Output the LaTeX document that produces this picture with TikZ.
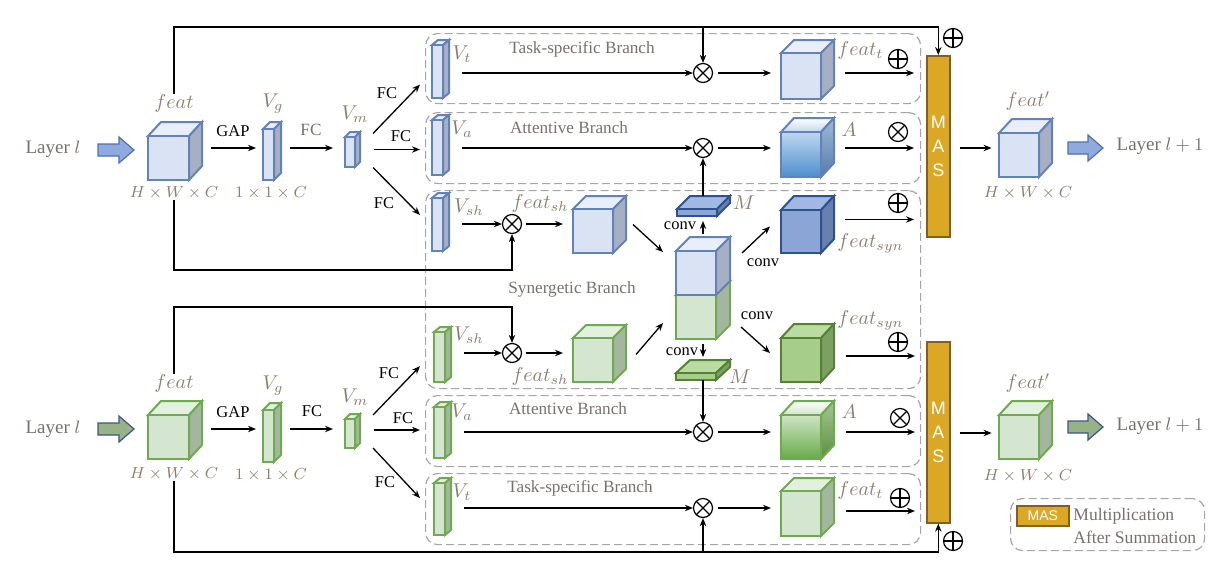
\documentclass[tikz,border=0pt]{standalone}
\usepackage{fontspec}
\setmainfont{Liberation Serif}
\newfontfamily\sansf{Liberation Sans}
\usetikzlibrary{arrows.meta,fit,calc}
\definecolor{lbf}{RGB}{218,227,243}
\definecolor{lbt}{RGB}{233,239,250}
\definecolor{lbs}{RGB}{166,176,194}
\definecolor{lbd}{RGB}{98,130,188}
\definecolor{lgf}{RGB}{212,230,208}
\definecolor{lgt}{RGB}{226,240,222}
\definecolor{lgs}{RGB}{165,182,160}
\definecolor{lgd}{RGB}{112,170,80}
\definecolor{dbf}{RGB}{139,165,214}
\definecolor{dbt}{RGB}{160,184,226}
\definecolor{dbs}{RGB}{104,128,174}
\definecolor{dbd}{RGB}{47,82,143}
\definecolor{dgf}{RGB}{166,206,138}
\definecolor{dgt}{RGB}{186,220,162}
\definecolor{dgs}{RGB}{124,160,98}
\definecolor{dgd}{RGB}{84,130,53}
\definecolor{masf}{RGB}{218,168,36}
\definecolor{masd}{RGB}{130,95,30}
\definecolor{dashg}{RGB}{165,165,165}
\definecolor{tgray}{RGB}{118,113,110}
\definecolor{mgray}{RGB}{140,126,110}
\definecolor{bafill}{RGB}{143,170,220}
\definecolor{badraw}{RGB}{80,110,180}
\definecolor{gafill}{RGB}{152,178,136}
\definecolor{gadraw}{RGB}{60,85,140}
\newcommand{\drawcube}[8]{%
  \filldraw[#8top] (#2,#3) -- ++(#6,-#7) -- ++(#4,0) -- ++(-#6,#7) -- cycle;
  \filldraw[#8side] (#2+#4,#3) -- ++(#6,-#7) -- ++(0,#5) -- ++(-#6,#7) -- cycle;
  \filldraw[#8front] (#2,#3) rectangle ++(#4,#5);
  \node[fit={(#2,#3-#7) (#2+#4+#6,#3+#5)}, inner sep=0pt, outer sep=0pt] (#1) {};
}
\tikzset{
  cb/.style={line width=1pt, line join=miter},
  lbtop/.style={cb, draw=lbd, fill=lbt}, lbside/.style={cb, draw=lbd, fill=lbs}, lbfront/.style={cb, draw=lbd, fill=lbf},
  lgtop/.style={cb, draw=lgd, fill=lgt}, lgside/.style={cb, draw=lgd, fill=lgs}, lgfront/.style={cb, draw=lgd, fill=lgf},
  dbtop/.style={cb, draw=dbd, fill=dbt}, dbside/.style={cb, draw=dbd, fill=dbs}, dbfront/.style={cb, draw=dbd, fill=dbf},
  dgtop/.style={cb, draw=dgd, fill=dgt}, dgside/.style={cb, draw=dgd, fill=dgs}, dgfront/.style={cb, draw=dgd, fill=dgf},
  gatop/.style={cb, draw=lbd, top color=white, bottom color={rgb,255:red,195;green,215;blue,238}},
  gaside/.style={cb, draw=lbd, top color={rgb,255:red,160;green,185;blue,212}, bottom color={rgb,255:red,85;green,125;blue,172}},
  gafront/.style={cb, draw=lbd, top color={rgb,255:red,190;green,214;blue,240}, bottom color={rgb,255:red,78;green,143;blue,204}},
  ggtop/.style={cb, draw=lgd, top color=white, bottom color={rgb,255:red,208;green,230;blue,200}},
  ggside/.style={cb, draw=lgd, top color={rgb,255:red,165;green,198;blue,150}, bottom color={rgb,255:red,92;green,142;blue,62}},
  ggfront/.style={cb, draw=lgd, top color={rgb,255:red,205;green,228;blue,196}, bottom color={rgb,255:red,104;green,170;blue,74}},
  arr/.style={line width=0.65pt, -{Stealth[length=4pt,width=3.2pt]}},
  ln/.style={line width=0.65pt},
  branchbox/.style={draw=dashg, dash pattern=on 4pt off 2pt, line width=0.6pt, rounded corners=6pt, inner sep=0pt, anchor=north west},
  otimes/.style={circle, draw, line width=0.6pt, inner sep=0pt, minimum size=9.5pt,
    path picture={\draw[line width=0.6pt] (path picture bounding box.north west) -- (path picture bounding box.south east)
      (path picture bounding box.north east) -- (path picture bounding box.south west);}},
  oplus/.style={circle, draw, line width=0.6pt, inner sep=0pt, minimum size=9.5pt,
    path picture={\draw[line width=0.6pt] (path picture bounding box.north) -- (path picture bounding box.south)
      (path picture bounding box.east) -- (path picture bounding box.west);}},
  lay/.style={text=tgray, font=\fontsize{9.5}{11}\selectfont, inner sep=0pt},
  txt/.style={text=tgray, font=\fontsize{8.6}{10}\selectfont, inner sep=0pt},
  mth/.style={text=mgray, font=\fontsize{10}{12}\selectfont, inner sep=0pt},
  dim/.style={text=mgray, font=\fontsize{8}{10}\selectfont, inner sep=0pt},
  blk/.style={text=black, font=\fontsize{8.25}{10}\selectfont, inner sep=0pt},
  mas/.style={draw=masd, fill=masf, line width=0.8pt, inner sep=0pt, anchor=north west, text=white, align=center,
    font=\sansf\fontsize{9}{12}\selectfont},
  barrowA/.style={draw=badraw, fill=bafill, line width=0.6pt},
  barrowB/.style={draw=gadraw, fill=gafill, line width=0.6pt},
}
\begin{document}
\begin{tikzpicture}[x=0.5pt,y=-0.5pt]
\useasboundingbox (0,0) rectangle (1230,562);
% ---------- branch boxes ----------
\node[branchbox, minimum width=247.5pt, minimum height=35pt] (tA) at (425,33) {};
\node[branchbox, minimum width=247.5pt, minimum height=35.5pt] (aA) at (425,112) {};
\node[branchbox, minimum width=247.5pt, minimum height=99pt] (syn) at (425,190) {};
\node[branchbox, minimum width=247.5pt, minimum height=35.5pt] (aB) at (425,395) {};
\node[branchbox, minimum width=247.5pt, minimum height=35.5pt] (tB) at (425,473) {};
% ---------- MAS ----------
\node[mas, minimum width=11.5pt, minimum height=90.5pt] (masA) at (926,55) {M\\A\\S};
\node[mas, minimum width=11.5pt, minimum height=90.5pt] (masB) at (926,341) {M\\A\\S};
% ---------- upper half (blue) ----------
\node[lay] (layA) at (53,149) {Layer $l$};
\filldraw[barrowA] (98,144) -- (119,144) -- (119,137) -- (134,150) -- (119,163) -- (119,156) -- (98,156) -- cycle;
\node[fit={(98,137) (134,163)}, inner sep=0pt] (baA) {};
\drawcube{cA}{148}{136}{41}{44}{13}{14}{lb}
\node[mth] (flA) at (174,103) {$feat$};
\node[dim] (hwA) at (174,193) {$H\times W\times C$};
\node[blk] (gapA) at (233,131) {GAP};
\drawcube{vgA}{263}{129}{11}{51}{7}{7}{lb}
\node[mth] (vglA) at (273,104) {$V_g$};
\node[dim] (ocA) at (271,193) {$1\times 1\times C$};
\node[txt] (fcA) at (311,130) {FC};
\drawcube{vmA}{345}{137}{10}{30}{5}{5}{lb}
\node[mth] (vmlA) at (355,114) {$V_m$};
\coordinate (yA) at (0,148);
\draw[arr] ($(cA.east |- yA)+(9,0)$) -- ($(vgA.west |- yA)+(-7,0)$);
\draw[arr] ($(vgA.east |- yA)+(9,0)$) -- ($(vmA.west |- yA)+(-12,0)$);
\draw[arr] ($(vmA.east)+(13,-16)$) -- ($(tA.west)+(-5,16)$);
\draw[arr] ($(vmA.east)+(14,0)$) -- ($(aA.west |- vmA.east)+(-5,0)$);
\draw[arr] ($(vmA.east)+(13,18)$) -- ($(syn.north west)+(-5,25)$);
\node[blk] (fc1A) at (387,93) {FC};
\node[blk] (fc2A) at (401,136) {FC};
\node[blk] (fc3A) at (384,203) {FC};
% task-specific A
\drawcube{vtA}{432}{45}{11}{53}{6}{5}{lb}
\node[mth] (vtlA) at (462,54) {$V_t$};
\node[txt] (tsA) at (582,49) {Task-specific Branch};
\node[otimes] (otA) at (703,73) {};
\drawcube{ftA}{781}{53}{40}{46}{13}{13}{lb}
\node[mth, anchor=west] (ftlA) at (837,50) {$feat_t$};
\node[oplus] (opA1) at (898,59) {};
\draw[arr] ($(vtA.east |- otA.west)+(13,0)$) -- (otA.west);
\draw[arr] ($(otA.east)+(5,0)$) -- ($(otA.east -| ftA.west)+(-10,0)$);
\draw[arr] ($(otA.east -| ftA.east)+(11,0)$) -- ($(otA.east -| masA.west)+(-12,0)$);
% attentive A
\drawcube{vaA}{432}{120}{11}{55}{6}{5}{lb}
\node[mth] (valA) at (462,129) {$V_a$};
\node[txt] (abA) at (569,128) {Attentive Branch};
\node[otimes] (oaA) at (703,148) {};
\drawcube{gaA}{781}{132}{40}{45}{13}{14}{ga}
\node[mth] (alA) at (849,130) {$A$};
\node[otimes] (oaA2) at (898,132) {};
\draw[arr] ($(vaA.east |- oaA.west)+(13,0)$) -- (oaA.west);
\draw[arr] ($(oaA.east)+(5,0)$) -- ($(oaA.east -| gaA.west)+(-10,0)$);
\draw[arr] ($(oaA.east -| gaA.east)+(11,0)$) -- ($(oaA.east -| masA.west)+(-12,0)$);
% synergetic A
\drawcube{vsA}{432}{198}{11}{53}{6}{5}{lb}
\node[mth] (vslA) at (469,207) {$V_{sh}$};
\node[otimes] (osA) at (512,224) {};
\drawcube{shA}{573}{209}{40}{44}{13}{13}{lb}
\node[mth] (shlA) at (540,203) {$feat_{sh}$};
\draw[arr] ($(vsA.east |- osA.west)+(13,0)$) -- (osA.west);
\draw[arr] ($(osA.east)+(4,0)$) -- ($(osA.east -| shA.west)+(-10,0)$);
% stacked
\drawcube{stB}{676}{295}{40}{44}{14}{14}{lg}
\drawcube{stA}{676}{251}{40}{44}{14}{14}{lb}
\drawcube{mA}{677}{209}{40}{7}{13}{13}{db}
\node[mth] (mlA) at (744,203) {$M$};
\node[blk] (cv1) at (680,226) {conv};
\draw[arr] ($(shA.east)+(7,0)$) -- ($(stA.west)+(-13,-14)$);
\draw[arr] ($(stA.north)+(0,-3)$) -- ($(stA.north |- mA.south)+(0,5)$);
\draw[arr] (oaA.south |- mA.north) -- (oaA.south);
\drawcube{syA}{781}{210}{40}{43}{13}{14}{db}
\node[mth, anchor=west] (sylA) at (837,243) {$feat_{syn}$};
\node[oplus] (opA2) at (898,203) {};
\node[blk] (cv2) at (763,263) {conv};
\draw[arr] ($(stA.east)+(12,-13)$) -- ($(syA.west)+(-11,2)$);
\draw[arr] ($(syA.east)+(11,-5)$) -- ($(syA.east -| masA.west)+(-12,-5)$);
\node[txt] (sbl) at (572,289) {Synergetic Branch};
% feedback lines A
\coordinate (barA) at (0,27);
\coordinate (lowA) at (0,270);
\draw[arr] (flA.north) -- (flA.north |- barA) -- (masA.north |- barA) -- (masA.north);
\draw[arr] (otA.north |- barA) -- (otA.north);
\node[oplus] (opA0) at (953,38) {};
\draw[arr] (hwA.south) -- (hwA.south |- lowA) -- (osA.south |- lowA) -- (osA.south);
% output A
\drawcube{fpA}{999}{133}{40}{44}{13}{14}{lb}
\node[mth] (fplA) at (1028,101) {$feat'$};
\node[dim] (hwA2) at (1028,193) {$H\times W\times C$};
\draw[arr] ($(masA.east |- oaA.east)+(9,0)$) -- ($(masA.east |- oaA.east)+(41,0)$);
\filldraw[barrowA] (1068,142) -- (1088,142) -- (1088,135) -- (1103,148) -- (1088,161) -- (1088,154) -- (1068,154) -- cycle;
\node[fit={(1068,135) (1103,161)}, inner sep=0pt] (baA2) {};
\node[lay] (layA2) at (1160,146) {Layer $l+1$};
% ---------- lower half (green) ----------
\node[lay] (layB) at (53,429) {Layer $l$};
\filldraw[barrowB] (98,423) -- (119,423) -- (119,416) -- (134,429) -- (119,442) -- (119,435) -- (98,435) -- cycle;
\node[fit={(98,416) (134,442)}, inner sep=0pt] (baB) {};
\drawcube{cB}{148}{415}{41}{44}{13}{14}{lg}
\node[mth] (flB) at (174,383) {$feat$};
\node[dim] (hwB) at (174,474) {$H\times W\times C$};
\node[blk] (gapB) at (233,412) {GAP};
\drawcube{vgB}{263}{410}{11}{52}{7}{7}{lg}
\node[mth] (vglB) at (273,386) {$V_g$};
\node[dim] (ocB) at (271,475) {$1\times 1\times C$};
\node[blk] (fcB) at (312,411) {FC};
\drawcube{vmB}{345}{419}{10}{29}{5}{5}{lg}
\node[mth] (vmlB) at (355,397) {$V_m$};
\coordinate (yB) at (0,429);
\draw[arr] ($(cB.east |- yB)+(9,0)$) -- ($(vgB.west |- yB)+(-7,0)$);
\draw[arr] ($(vgB.east |- yB)+(9,0)$) -- ($(vmB.west |- yB)+(-12,0)$);
\draw[arr] ($(vmB.east)+(13,-16)$) -- ($(syn.south west)+(-5,-23)$);
\draw[arr] ($(vmB.east)+(14,-1)$) -- ($(aB.west |- vmB.east)+(-5,-1)$);
\draw[arr] ($(vmB.east)+(13,17)$) -- ($(tB.west)+(-5,-11)$);
\node[blk] (fc1B) at (389,373) {FC};
\node[blk] (fc2B) at (403,418) {FC};
\node[blk] (fc3B) at (385,482) {FC};
% synergetic B
\drawcube{vsB}{434}{332}{11}{50}{6}{5}{lg}
\node[mth] (vslB) at (469,335) {$V_{sh}$};
\node[otimes] (osB) at (512,353) {};
\drawcube{shB}{573}{338}{40}{44}{13}{13}{lg}
\node[mth] (shlB) at (540,376) {$feat_{sh}$};
\draw[arr] ($(vsB.east |- osB.west)+(13,0)$) -- (osB.west);
\draw[arr] ($(osB.east)+(4,0)$) -- ($(osB.east -| shB.west)+(-10,0)$);
\draw[arr] ($(shB.east)+(10,1)$) -- ($(stB.west)+(-13,13)$);
\drawcube{mB}{676}{373}{40}{7}{14}{13}{dg}
\node[mth] (mlB) at (740,377) {$M$};
\node[blk] (cv3) at (682,352) {conv};
\draw[arr] ($(stB.south)+(0,5)$) -- ($(stB.south |- mB.north)+(0,-3)$);
\drawcube{syB}{781}{338}{40}{44}{13}{14}{dg}
\node[mth, anchor=west] (sylB) at (837,320) {$feat_{syn}$};
\node[oplus] (opB2) at (898,342) {};
\node[blk] (cv4) at (757,316) {conv};
\draw[arr] ($(stB.east)+(11,17)$) -- ($(syB.west)+(-11,0)$);
\draw[arr] ($(syB.east)+(12,3)$) -- ($(syB.east -| masB.west)+(-11,3)$);
% attentive B
\drawcube{vaB}{434}{407}{11}{51}{6}{5}{lg}
\node[mth] (valB) at (462,412) {$V_a$};
\node[txt] (abB) at (568,409) {Attentive Branch};
\node[otimes] (oaB) at (703,432) {};
\drawcube{gaB}{781}{415}{40}{44}{13}{14}{gg}
\node[mth] (alB) at (849,412) {$A$};
\node[otimes] (oaB2) at (900,418) {};
\draw[arr] ($(vaB.east |- oaB.west)+(13,0)$) -- (oaB.west);
\draw[arr] ($(oaB.east)+(5,0)$) -- ($(oaB.east -| gaB.west)+(-10,0)$);
\draw[arr] ($(oaB.east -| gaB.east)+(12,0)$) -- ($(oaB.east -| masB.west)+(-11,0)$);
\draw[arr] (oaB.north |- mB.south) -- (oaB.north);
% task-specific B
\drawcube{vtB}{434}{483}{11}{52}{6}{5}{lg}
\node[mth] (vtlB) at (462,492) {$V_t$};
\node[txt] (tsB) at (580,488) {Task-specific Branch};
\node[otimes] (otB) at (703,508) {};
\drawcube{ftB}{781}{491}{40}{45}{13}{13}{lg}
\node[mth, anchor=west] (ftlB) at (837,490) {$feat_t$};
\node[oplus] (opB1) at (900,498) {};
\draw[arr] ($(vtB.east |- otB.west)+(13,0)$) -- (otB.west);
\draw[arr] ($(otB.east)+(5,0)$) -- ($(otB.east -| ftB.west)+(-10,0)$);
\draw[arr] ($(otB.east -| ftB.east)+(12,3)$) -- ($(otB.east -| masB.west)+(-11,3)$);
% feedback lines B
\coordinate (hiB) at (0,307);
\coordinate (lowB) at (0,552);
\draw[arr] (flB.north) -- (flB.north |- hiB) -- (osB.north |- hiB) -- (osB.north);
\draw[arr] (hwB.south) -- (hwB.south |- lowB) -- (masB.south |- lowB) -- (masB.south);
\draw[arr] (otB.south |- lowB) -- (otB.south);
\node[oplus] (opB0) at (953,541) {};
% output B
\drawcube{fpB}{999}{415}{40}{44}{13}{14}{lg}
\node[mth] (fplB) at (1028,383) {$feat'$};
\node[dim] (hwB2) at (1028,476) {$H\times W\times C$};
\draw[arr] ($(masB.east |- oaB.east)+(9,1)$) -- ($(masB.east |- oaB.east)+(41,1)$);
\filldraw[barrowB] (1068,421) -- (1088,421) -- (1088,414) -- (1103,427) -- (1088,440) -- (1088,433) -- (1068,433) -- cycle;
\node[fit={(1068,414) (1103,440)}, inner sep=0pt] (baB2) {};
\node[lay] (layB2) at (1160,426) {Layer $l+1$};
% ---------- legend ----------
\node[branchbox, minimum width=97pt, minimum height=26pt] (leg) at (1010,498) {};
\node[mas, minimum width=26pt, minimum height=10pt, font=\sansf\fontsize{7}{8}\selectfont] (legm) at (1016,505) {MAS};
\node[txt, anchor=west, font=\fontsize{8.8}{10}\selectfont] (lt1) at (1073,516) {Multiplication};
\node[txt, anchor=west, font=\fontsize{8.8}{10}\selectfont] (lt2) at (1073,537) {After Summation};
\end{tikzpicture}
\end{document}
